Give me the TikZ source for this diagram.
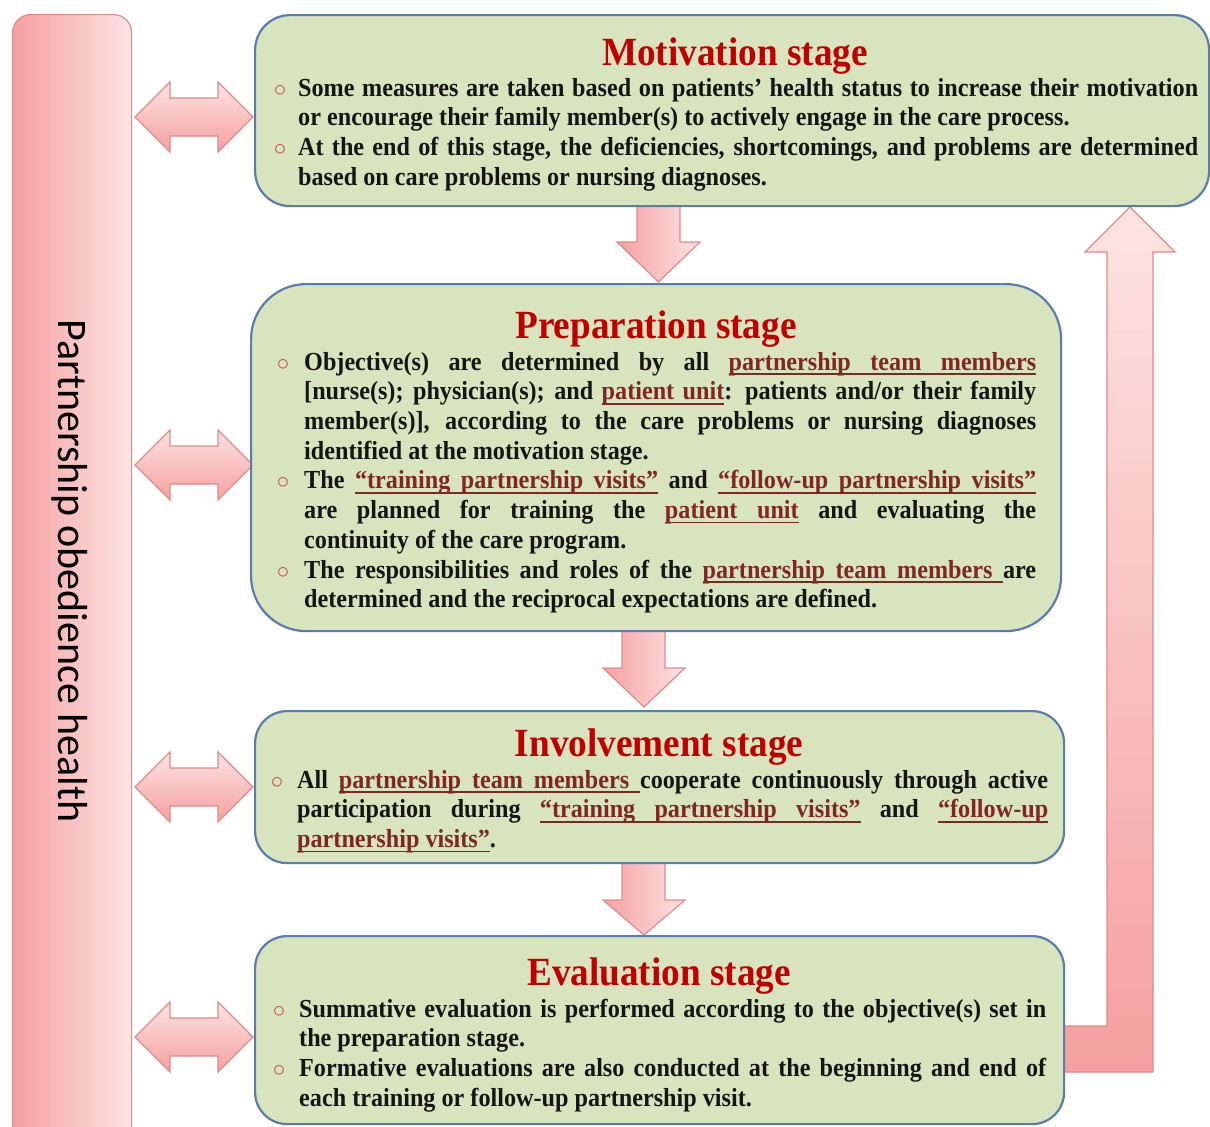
\documentclass[tikz,border=0pt]{standalone}
\usepackage{fontspec}
\setmainfont{Liberation Serif}[FakeStretch=0.93]
\newfontfamily\barfont{Carlito}
\usetikzlibrary{calc}
\definecolor{boxfill}{HTML}{D7E4BD}
\definecolor{boxdraw}{HTML}{5B7DAE}
\definecolor{titlec}{HTML}{C00000}
\definecolor{ulred}{HTML}{7F2626}
\definecolor{bulc}{HTML}{C0504D}
\definecolor{bodyc}{HTML}{151515}
\definecolor{pinkd}{HTML}{F5A0A0}
\definecolor{pinkl}{HTML}{FDE3E3}
\definecolor{pinkb}{HTML}{E08A8A}
% underlining, word by word, with stretchable underlined spaces
\newcommand\uw[1]{\setbox0=\hbox{#1}\rlap{\rule[-4.8pt]{\wd0}{1.8pt}}\box0}
\newcommand\us{\leaders\hrule height -3.0pt depth 4.8pt\hskip\fontdimen2\font plus\fontdimen3\font minus\fontdimen4\font\relax}
\def\ulx#1{\begingroup\color{ulred}\ulxi#1 \relax\endgroup}
\def\ulxi#1 #2\relax{\uw{#1}\ifx\relax#2\relax\else\us\ulxi#2\relax\fi}
\newcommand\bulx[1]{\noindent\strut\llap{\textcolor{bulc}{$\circ$}\hspace{#1}}}
\newcommand\lbk{\linebreak[4]}
\newcommand\bodyfont{\fontsize{26}{29.7}\selectfont\bfseries\hyphenpenalty=10000\tolerance=10000\hbadness=10000\parskip=0pt\parindent=0pt}
\tikzset{
  stagebox/.style={draw=boxdraw, line width=2.2pt, fill=boxfill, rounded corners=#1, inner sep=0pt, anchor=north west},
  ttl/.style={font=\fontsize{40}{44}\selectfont\bfseries, text=titlec, inner sep=0pt, anchor=base},
  bodytext/.style={font=\bodyfont, text=bodyc, text width=#1, align=justify, inner sep=0pt, anchor=north west},
  pinkedge/.style={draw=pinkb, line width=1.2pt, line join=miter},
}
\begin{document}
\begin{tikzpicture}[x=1pt,y=-1pt]
\useasboundingbox (0,0) rectangle (1210,1127);
\fill[white] (0,0) rectangle (1210,1127);
% left bar
\node[shade, left color=pinkd, right color=pinkl, draw=pinkb, line width=1.2pt, rounded corners=18pt, minimum width=119pt, minimum height=1140pt, anchor=north west, inner sep=0pt] (bar) at (12,14) {};
\node[rotate=-90, font=\barfont\fontsize{42}{46}\selectfont, text=black, inner sep=0pt] (bartext) at (70,571) {Partnership obedience health};
% double arrows between bar and stage boxes
\foreach \c in {117,465,787,1037}{
  \shadedraw[top color=pinkl, bottom color=pinkd, pinkedge]
    (135,\c) -- (170,{\c-35}) -- (170,{\c-19}) -- (218,{\c-19}) -- (218,{\c-35}) -- (253,\c)
    -- (218,{\c+35}) -- (218,{\c+19}) -- (170,{\c+19}) -- (170,{\c+35}) -- cycle;
}
% down arrows
\shadedraw[left color=pinkd, right color=pinkl, pinkedge]
  (637,203) -- (680,203) -- (680,242) -- (700,242) -- (658.5,282) -- (617,242) -- (637,242) -- cycle;
\shadedraw[left color=pinkd, right color=pinkl, pinkedge]
  (622,628) -- (665,628) -- (665,668) -- (685,668) -- (644,707) -- (603,668) -- (622,668) -- cycle;
\shadedraw[left color=pinkd, right color=pinkl, pinkedge]
  (622,860) -- (665,860) -- (665,900) -- (685,900) -- (644,935) -- (603,900) -- (622,900) -- cycle;
% feedback arrow
\shadedraw[top color=pinkl, bottom color=pinkd, pinkedge]
  (1058,1026) -- (1107,1026) -- (1107,252) -- (1085,252) -- (1130,207) -- (1175,252)
  -- (1153,252) -- (1153,1072) -- (1058,1072) -- cycle;
% stage boxes
\node[stagebox=35pt, minimum width=954pt, minimum height=191pt] (mot) at (254,14) {};
\node[stagebox=55pt, minimum width=810pt, minimum height=347pt] (prep) at (250,283) {};
\node[stagebox=32pt, minimum width=809pt, minimum height=152pt] (inv) at (254,710) {};
\node[stagebox=32pt, minimum width=809pt, minimum height=188pt] (eva) at (254,935) {};
% titles
\node[ttl] (motT) at (735,65) {Motivation stage};
\node[ttl] (prepT) at (656,338) {Preparation stage};
\node[ttl] (invT) at (659,756) {Involvement stage};
\node[ttl] (evaT) at (659,985) {Evaluation stage};
% bodies
\node[bodytext=900pt] (motB) at (298,75.2) {%
\bulx{12pt}Some measures are taken based on patients’ health status to increase their motivation \lbk or encourage their family member(s) to actively engage in the care process.\par
\bulx{12pt}At the end of this stage, the deficiencies, shortcomings, and problems are determined \lbk based on care problems or nursing diagnoses.\par};
\node[bodytext=732pt] (prepB) at (304,349.2) {%
\bulx{15pt}Objective(s) are determined by all \ulx{partnership team members} \lbk {[}nurse(s); physician(s); and \ulx{patient unit}: patients and/or their family \lbk member(s)], according to the care problems or nursing diagnoses \lbk identified at the motivation stage.\par
\bulx{15pt}The \ulx{“training partnership visits”} and \ulx{“follow-up partnership visits”} \lbk are planned for training the \ulx{patient unit} and evaluating the \lbk continuity of the care program.\par
\bulx{15pt}The responsibilities and roles of the \ulx{partnership team members}{\color{ulred}\us}are \lbk determined and the reciprocal expectations are defined.\par};
\node[bodytext=751pt] (invB) at (297,767.2) {%
\bulx{14pt}All \ulx{partnership team members}{\color{ulred}\us}cooperate continuously through active \lbk participation during \ulx{“training partnership visits”} and \ulx{“follow-up} \lbk \ulx{partnership visits”}.\par};
\node[bodytext=747pt] (evaB) at (299,996.2) {%
\bulx{14pt}Summative evaluation is performed according to the objective(s) set in \lbk the preparation stage.\par
\bulx{14pt}Formative evaluations are also conducted at the beginning and end of \lbk each training or follow-up partnership visit.\par};
\end{tikzpicture}
\end{document}
